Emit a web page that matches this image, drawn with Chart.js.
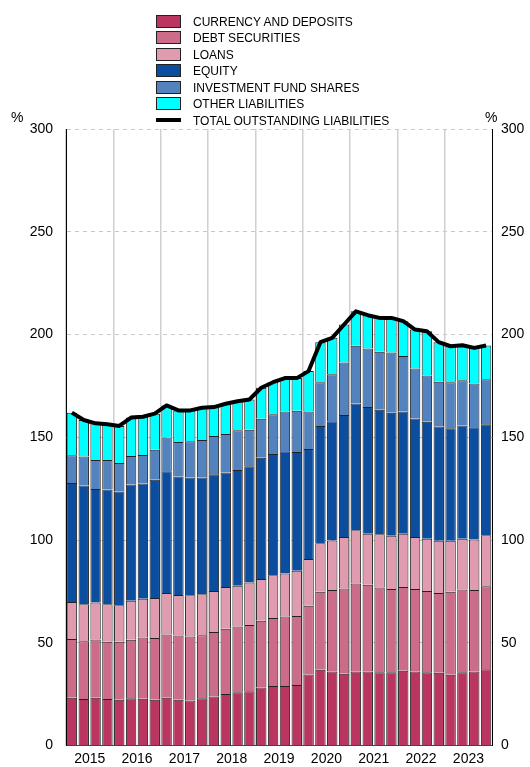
<!DOCTYPE html>
<html>
<head>
<meta charset="utf-8">
<script src="https://cdn.jsdelivr.net/npm/chart.js@4"></script>
<style>
body{margin:0;background:#fff;font-family:"Liberation Sans",Arial,sans-serif}
#wrap{position:relative;width:530px;height:767px}
#legend{position:absolute;left:156px;top:13.5px;font-size:12px;color:#000}
#legend div{height:16.5px;line-height:16.5px;white-space:nowrap}
#legend span.box{display:inline-block;width:23px;height:11px;border:1px solid #222;vertical-align:middle;margin-right:12px;position:relative;top:-1px}
#legend span.ln{display:inline-block;width:25px;height:4px;background:#000;vertical-align:middle;margin-right:12px;position:relative;top:-1px}
.pct{position:absolute;top:109px;font-size:14px}
</style>
</head>
<body>
<div id="wrap">
<canvas id="myChart" width="530" height="767"></canvas>
<div id="legend"></div>
<span class="pct" style="left:11px">%</span>
<span class="pct" style="left:485px">%</span>
</div>
<script>
var quarters=['2015Q1','2015Q2','2015Q3','2015Q4','2016Q1','2016Q2','2016Q3','2016Q4',
'2017Q1','2017Q2','2017Q3','2017Q4','2018Q1','2018Q2','2018Q3','2018Q4',
'2019Q1','2019Q2','2019Q3','2019Q4','2020Q1','2020Q2','2020Q3','2020Q4',
'2021Q1','2021Q2','2021Q3','2021Q4','2022Q1','2022Q2','2022Q3','2022Q4',
'2023Q1','2023Q2','2023Q3','2023Q4']
var currency=[23.3,22.7,23.3,22.7,22.3,23.0,22.8,22.3,23.3,22.3,22.0,23.0,23.9,25.1,25.9,26.4,28.3,29.0,29.0,29.5,
34.6,36.9,36.1,35.0,36.1,36.1,35.7,35.7,36.4,36.1,35.7,35.4,34.5,35.7,36.1,37.2]
var debt=[28.6,28.1,28.3,27.8,28.2,28.5,29.8,30.0,30.7,31.3,31.1,30.7,31.4,31.8,32.0,32.3,32.4,33.1,33.8,33.6,
33.5,38.0,39.6,41.4,42.8,42.1,41.2,40.5,40.8,40.1,39.5,38.9,40.4,40.3,39.6,40.3]
var loans=[18.0,18.0,18.0,18.3,17.8,19.0,18.8,19.5,20.3,19.7,20.0,19.9,19.9,20.3,19.9,20.7,20.4,20.8,20.9,22.0,
22.7,23.6,24.1,25.1,25.9,24.9,25.9,25.9,25.9,25.3,25.4,25.4,24.8,24.6,24.6,24.8]
var equity=[57.9,57.7,55.3,55.8,55.3,56.5,56.1,57.5,59.2,57.6,57.3,56.8,56.8,55.7,56.3,56.5,58.9,59.0,59.5,57.8,
53.5,57.0,58.0,59.3,61.7,61.6,60.6,59.8,59.4,57.7,57.0,55.5,54.7,55.2,54.6,54.0]
var fundShares=[13.5,14.1,14.1,14.4,13.9,13.9,13.9,14.7,16.4,16.8,17.7,18.3,18.6,18.7,19.3,17.8,19.0,19.3,19.3,20.0,
18.3,21.3,22.9,25.6,28.1,28.5,28.2,29.3,27.0,24.3,22.5,21.8,22.4,22.0,21.3,21.9]
var other=[20.7,17.8,17.8,17.3,18.0,18.7,18.6,17.5,15.6,15.4,15.0,15.7,14.1,14.7,14.1,14.7,15.1,15.6,16.3,15.9,
19.6,19.5,17.7,18.5,16.7,16.2,16.5,16.9,17.0,18.9,21.5,19.3,17.5,17.0,17.3,16.5]
var total=[162.0,158.4,156.8,156.3,155.5,159.6,160.0,161.5,165.5,163.1,163.1,164.4,164.7,166.3,167.5,168.4,174.1,176.8,178.8,178.8,
182.2,196.3,198.4,204.9,211.3,209.4,208.1,208.1,206.5,202.4,201.6,196.3,194.3,194.8,193.5,194.7]
var yTicks=[0,50,100,150,200,250,300]

var series=[
  {label:'CURRENCY AND DEPOSITS',data:currency,color:'#BA3660'},
  {label:'DEBT SECURITIES',data:debt,color:'#CD6C89'},
  {label:'LOANS',data:loans,color:'#E09BAF'},
  {label:'EQUITY',data:equity,color:'#0B4EA0'},
  {label:'INVESTMENT FUND SHARES',data:fundShares,color:'#5283BF'},
  {label:'OTHER LIABILITIES',data:other,color:'#00FFFF'}
]
var datasets=series.map(function(s){
  return {type:'bar',label:s.label,data:s.data,backgroundColor:s.color,borderColor:'#222',borderWidth:1,
    barPercentage:0.88,categoryPercentage:1,stack:'a',order:1,yAxisID:'y'}
})
datasets.push({type:'line',label:'TOTAL OUTSTANDING LIABILITIES',data:total,borderColor:'#000',borderWidth:4,
  pointRadius:0,fill:false,tension:0,stack:'t',order:0,yAxisID:'y',borderJoinStyle:'round'})

var leg=''
series.forEach(function(s){
  leg+="<div><span class='box' style='background:"+s.color+"'></span>"+s.label+"</div>"
})
leg+="<div><span class='ln'></span>TOTAL OUTSTANDING LIABILITIES</div>"
document.getElementById('legend').innerHTML=leg

var font={family:'"Liberation Sans", Arial, sans-serif',size:14}
new Chart('myChart',{
  data:{labels:quarters,datasets:datasets},
  options:{
    responsive:false,animation:false,
    layout:{padding:{top:129,left:0,right:0,bottom:0}},
    plugins:{legend:{display:false},tooltip:{enabled:false}},
    scales:{
      x:{
        stacked:true,
        afterFit:function(s){s.height=20},
        grid:{offset:true,drawTicks:false,lineWidth:1.5,
          color:function(c){return c.index%4==0?'#d0d0d0':'rgba(0,0,0,0)'}},
        border:{display:true,color:'#444'},
        ticks:{autoSkip:false,maxRotation:0,padding:5,labelOffset:6,color:'#000',font:font,
          callback:function(v,i){return i%4==1?quarters[i].slice(0,4):''}}
      },
      y:{
        stacked:true,min:0,max:300,position:'left',
        afterFit:function(s){s.width=66},
        afterBuildTicks:function(s){s.ticks=yTicks.map(function(v){return {value:v}})},
        grid:{color:'#c8c8c8',drawTicks:false,lineWidth:1},
        border:{color:'#000',dash:[4,4],display:true},
        ticks:{padding:13,color:'#000',font:font}
      },
      y2:{
        min:0,max:300,position:'right',
        afterFit:function(s){s.width=38},
        afterBuildTicks:function(s){s.ticks=yTicks.map(function(v){return {value:v}})},
        grid:{display:false,drawTicks:false},
        border:{color:'#000',display:true},
        ticks:{padding:9,color:'#000',font:font}
      }
    }
  }
})
</script>
</body>
</html>
